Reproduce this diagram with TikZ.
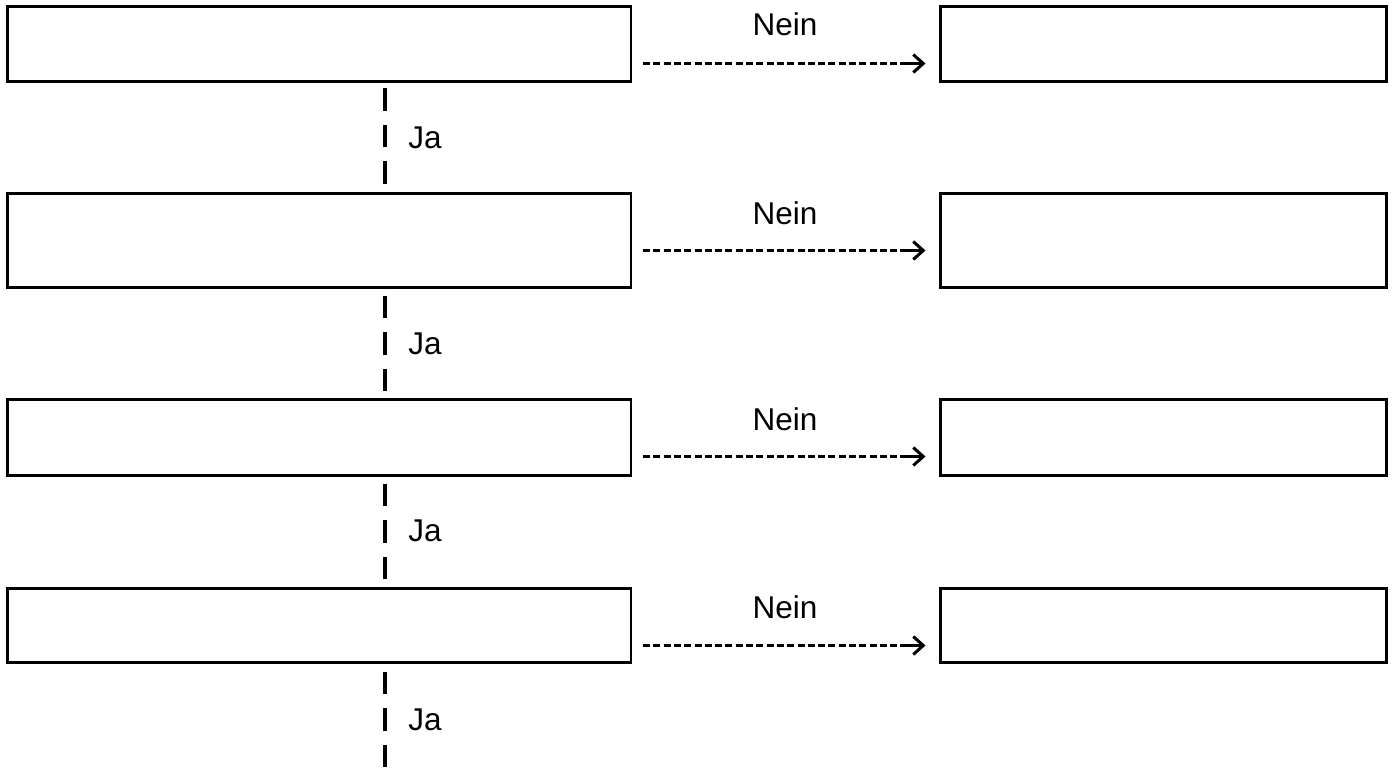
\documentclass[tikz,border=0pt]{standalone}
\usepackage{fontspec}
\setmainfont{Liberation Sans}
\usetikzlibrary{arrows.meta}
\begin{document}
\begin{tikzpicture}[x=1pt,y=-1pt,
  box/.style={draw=black,line width=2.5pt,rectangle,inner sep=0pt,outer sep=0pt,anchor=north west},
  lbox/.style={box,minimum width=623.5pt},
  rbox/.style={box,minimum width=446pt},
  lbl/.style={font=\fontsize{31.5}{37}\selectfont,anchor=base,inner sep=0pt},
  neinline/.style={line width=3pt,dash pattern=on 7pt off 3.3pt,shorten <=12pt,shorten >=40pt},
  neinarrow/.style={line width=3pt,shorten <=269pt,shorten >=15pt,-{Straight Barb[length=10pt,width=18pt,line width=3pt]}},
  jaline/.style={line width=3.2pt,dash pattern=on 22.5pt off 14pt}
]
\useasboundingbox (0,0) rectangle (1393,768);
% boxes
\node[lbox,minimum height=75pt] (l1) at (7.5,6.5) {};
\node[rbox,minimum height=75pt] (r1) at (940.5,6.5) {};
\node[lbox,minimum height=94pt] (l2) at (7.5,193.5) {};
\node[rbox,minimum height=94pt] (r2) at (940.5,193.5) {};
\node[lbox,minimum height=76pt] (l3) at (7.5,399.5) {};
\node[rbox,minimum height=76pt] (r3) at (940.5,399.5) {};
\node[lbox,minimum height=74pt] (l4) at (7.5,588.5) {};
\node[rbox,minimum height=74pt] (r4) at (940.5,588.5) {};
% Nein connectors
\foreach \i in {1,2,3,4}{
  \draw[neinline] ([yshift=-57pt]l\i.north east) -- ([yshift=-57pt]r\i.north west);
  \draw[neinarrow] ([yshift=-57pt]l\i.north east) -- ([yshift=-57pt]r\i.north west);
}
\node[lbl] (n1) at (785,36) {Nein};
\node[lbl] (n2) at (785,224) {Nein};
\node[lbl] (n3) at (785,430) {Nein};
\node[lbl] (n4) at (785,618) {Nein};
% Ja connectors
\coordinate (e4) at (385,768);
\draw[jaline,shorten <=6.5pt,shorten >=9pt] (l1.south west -| 385,0) -- (l2.north west -| 385,0);
\draw[jaline,shorten <=8pt,shorten >=8pt] (l2.south west -| 385,0) -- (l3.north west -| 385,0);
\draw[jaline,shorten <=8pt,shorten >=10pt] (l3.south west -| 385,0) -- (l4.north west -| 385,0);
\draw[jaline,shorten <=9pt] (l4.south west -| e4) -- (e4);
\node[lbl] (j1) at (425,148) {Ja};
\node[lbl] (j2) at (425,354) {Ja};
\node[lbl] (j3) at (425,541) {Ja};
\node[lbl] (j4) at (425,730) {Ja};
\end{tikzpicture}
\end{document}
